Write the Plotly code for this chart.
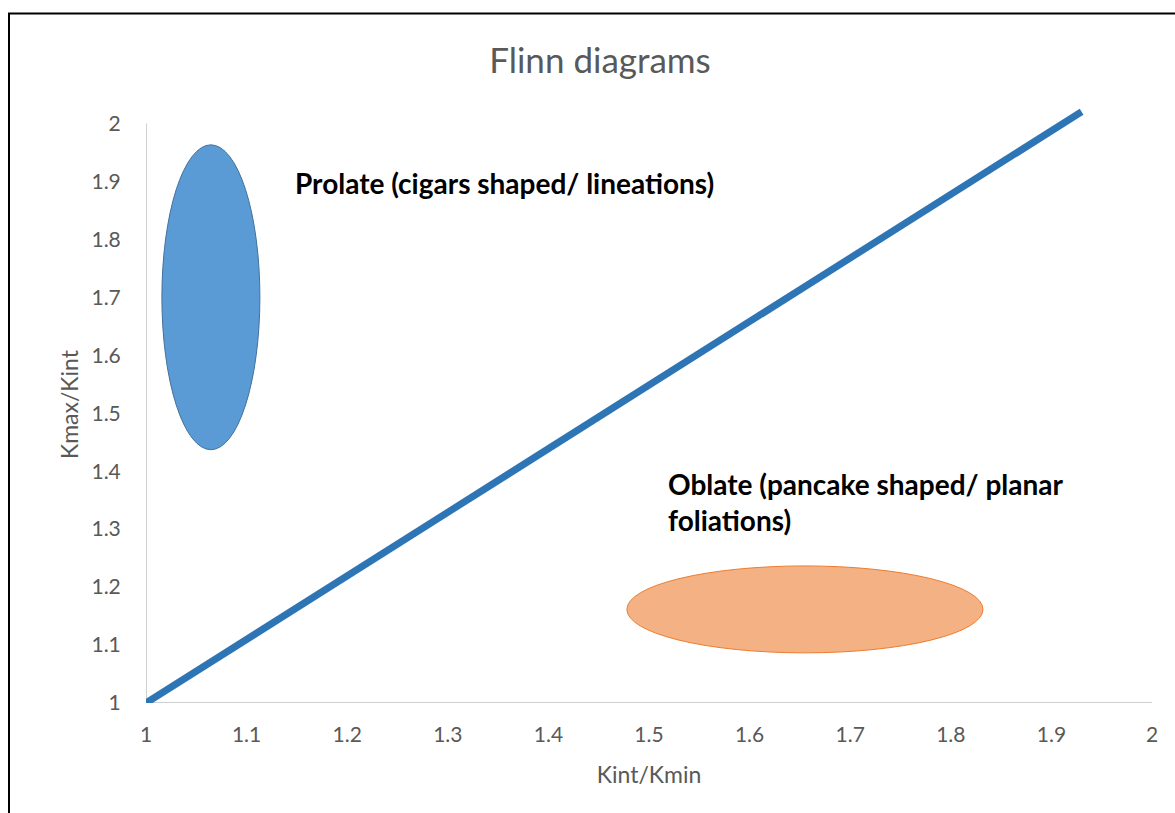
import plotly.graph_objects as go

# Flinn diagram: Kmax/Kint versus Kint/Kmin
title_text = "Flinn diagrams"
x_title = "Kint/Kmin"
y_title = "Kmax/Kint"

tick_vals = [1, 1.1, 1.2, 1.3, 1.4, 1.5, 1.6, 1.7, 1.8, 1.9, 2]
tick_text = ["1", "1.1", "1.2", "1.3", "1.4", "1.5", "1.6", "1.7", "1.8", "1.9", "2"]

# k = 1 dividing line
line_x = [1.0, 1.93]
line_y = [1.0, 2.02]

# Shape fields: centre and semi-axes in data units
field_names = ["Prolate", "Oblate"]
field_cx = [1.0645, 1.655]
field_cy = [1.70, 1.1615]
field_rx = [0.0487, 0.177]
field_ry = [0.263, 0.075]
field_fill = ["#5B9BD5", "#F4B183"]
field_edge = ["#41719C", "#ED7D31"]

label_text = [
    "Prolate (cigars shaped/ lineations)",
    "Oblate (pancake shaped/ planar<br>foliations)",
]
label_x = [1.146, 1.517]
label_y = [1.897, 1.41]
label_anchor = ["middle", "top"]

GRAY = "#595959"
FONT = "Lato, 'Open Sans', sans-serif"

fig = go.Figure()
fig.add_trace(go.Scatter(
    x=line_x, y=line_y, mode="lines",
    line=dict(color="#2E75B6", width=7),
    hoverinfo="skip", showlegend=False,
))

shapes = []
for cx, cy, rx, ry, fc, ec in zip(field_cx, field_cy, field_rx, field_ry, field_fill, field_edge):
    shapes.append(dict(
        type="circle", xref="x", yref="y",
        x0=cx - rx, x1=cx + rx, y0=cy - ry, y1=cy + ry,
        fillcolor=fc, line=dict(color=ec, width=1), layer="above",
    ))

# axis lines from 1 to 2 on each axis
shapes.append(dict(type="line", xref="x", yref="y", x0=1, x1=1, y0=1, y1=2,
                   line=dict(color="#BFBFBF", width=1.5), layer="below"))
shapes.append(dict(type="line", xref="x", yref="y", x0=1, x1=2, y0=1, y1=1,
                   line=dict(color="#BFBFBF", width=1.5), layer="below"))

# outer frame
W, H = 1175, 813
ml, mr, mt, mb = 146, 23, 106, 110
pw, ph = W - ml - mr, H - mt - mb
def px_x(p):
    return (p - ml) / pw
def px_y(p):
    return (H - mb - p) / ph
shapes.append(dict(type="rect", xref="paper", yref="paper",
                   x0=px_x(9), x1=px_x(1190), y0=px_y(830), y1=px_y(13.5),
                   line=dict(color="#000000", width=2), fillcolor="rgba(0,0,0,0)",
                   layer="above"))

annotations = []
for t, x, y, a in zip(label_text, label_x, label_y, label_anchor):
    annotations.append(dict(
        x=x, y=y, xref="x", yref="y", text="<b>" + t + "</b>", showarrow=False,
        xanchor="left", yanchor=a, align="left",
        font=dict(family=FONT, size=28, color="#000000"),
    ))

fig.update_layout(
    width=W, height=H,
    margin=dict(l=ml, r=mr, t=mt, b=mb),
    paper_bgcolor="white", plot_bgcolor="white",
    title=dict(text=title_text, x=600 / W, xref="container",
               xanchor="center", y=1 - 61 / H, yanchor="middle",
               font=dict(family=FONT, size=35, color=GRAY)),
    xaxis=dict(range=[1, 2], tickvals=tick_vals, ticktext=tick_text,
               showgrid=False, zeroline=False, showline=False,
               ticks="outside", ticklen=13, tickcolor="rgba(0,0,0,0)",
               tickfont=dict(family=FONT, size=21, color=GRAY),
               title=dict(text=x_title, standoff=21,
                          font=dict(family=FONT, size=23, color=GRAY))),
    yaxis=dict(range=[1, 2.03], tickvals=tick_vals, ticktext=tick_text,
               showgrid=False, zeroline=False, showline=False,
               ticks="outside", ticklen=20, tickcolor="rgba(0,0,0,0)",
               tickfont=dict(family=FONT, size=21, color=GRAY),
               title=dict(text=y_title, standoff=6,
                          font=dict(family=FONT, size=23, color=GRAY))),
    shapes=shapes,
    annotations=annotations,
    showlegend=False,
)

fig.write_html("out.html")
